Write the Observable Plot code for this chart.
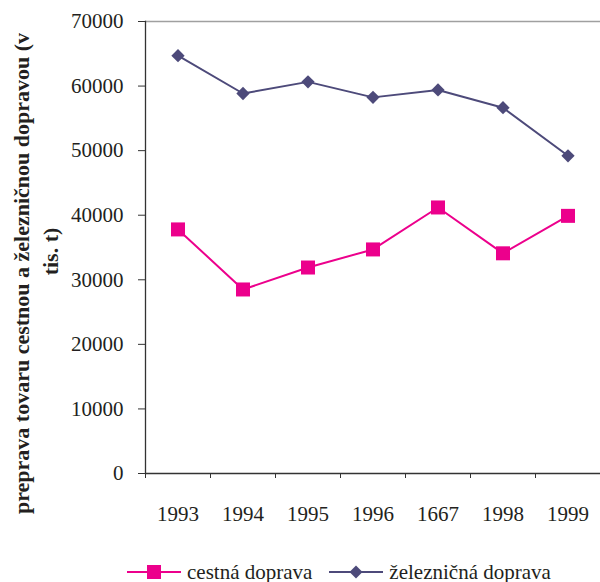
<!DOCTYPE html>
<html>
<head>
<meta charset="utf-8">
<script src="https://cdn.jsdelivr.net/npm/d3@7"></script>
<script src="https://cdn.jsdelivr.net/npm/@observablehq/plot@0.6"></script>
<style>
  body { margin: 0; background: #fff; }
  #wrap { position: relative; width: 600px; height: 582px; font-family: "Times New Roman", "Liberation Serif", Tinos, Times, serif; }
  #wrap svg text { font-family: "Times New Roman", "Liberation Serif", Tinos, Times, serif; }
  #legend { position: absolute; left: 127px; top: 557px; height: 30px; display: flex; align-items: center; font-size: 21px; color: #231F20; white-space: nowrap; }
  #legend .item { display: flex; align-items: center; }
  #legend .item + .item { margin-left: 17px; }
  #legend svg { display: block; }
  #legend span { margin-left: 6px; }
</style>
</head>
<body>
<div id="wrap"></div>
<script>
const years = ["1993", "1994", "1995", "1996", "1667", "1998", "1999"];
const cestna = [37800, 28500, 31900, 34700, 41200, 34100, 39900];
const zeleznicna = [64700, 58850, 60650, 58250, 59400, 56650, 49200];
const seriesNames = ["cestná doprava", "železničná doprava"];
const seriesColors = ["#EC008C", "#4D4A7A"];
const yTicks = [0, 10000, 20000, 30000, 40000, 50000, 60000, 70000];
const yTitle = ["preprava tovaru cestnou a železničnou dopravou (v", "tis. t)"];

const rowsC = years.map((yr, i) => ({year: yr, value: cestna[i], series: seriesNames[0]}));
const rowsZ = years.map((yr, i) => ({year: yr, value: zeleznicna[i], series: seriesNames[1]}));

const W = 600, H = 582, mL = 145, mR = 0, mT = 21, mB = 109;
const bw = (W - mL - mR) / years.length;
const midY = mT + (H - mT - mB) / 2;
const serif = "'Times New Roman', 'Liberation Serif', Tinos, Times, serif";

const chart = Plot.plot({
  width: W, height: H,
  marginLeft: mL, marginRight: mR, marginTop: mT, marginBottom: mB,
  style: {fontFamily: serif, fontSize: "21px", color: "#231F20", background: "#fff", overflow: "visible"},
  x: {type: "band", domain: years, padding: 0, label: null},
  y: {domain: [0, 70000], label: null},
  marks: [
    Plot.ruleY([70000], {stroke: "#A0A0A0", strokeWidth: 1.5}),
    Plot.frame({anchor: "left", stroke: "#333", strokeWidth: 1.3}),
    Plot.ruleY([0], {stroke: "#333", strokeWidth: 1.3}),
    Plot.axisY({ticks: yTicks, tickSize: 7, tickPadding: 15, tickFormat: d => String(d), label: null, fontSize: 21, stroke: "#333"}),
    Plot.axisX({tickSize: 5, tickFormat: () => "", dx: -bw / 2, label: null, stroke: "#333"}),
    Plot.axisX({tickSize: 0, tickPadding: 33, label: null, fontSize: 21}),
    Plot.line(rowsZ, {x: "year", y: "value", stroke: seriesColors[1], strokeWidth: 2}),
    Plot.dot(rowsZ, {x: "year", y: "value", symbol: "square", rotate: 45, r: 5.3, fill: seriesColors[1], stroke: "none"}),
    Plot.line(rowsC, {x: "year", y: "value", stroke: seriesColors[0], strokeWidth: 2}),
    Plot.dot(rowsC, {x: "year", y: "value", symbol: "square", r: 7.9, fill: seriesColors[0], stroke: "none"}),
    Plot.text([yTitle[0]], {frameAnchor: "left", rotate: -90, dx: 21 - mL, dy: 273 - midY, fontSize: 22, fontWeight: "bold", textAnchor: "middle", fill: "#231F20"}),
    Plot.text([yTitle[1]], {frameAnchor: "left", rotate: -90, dx: 50 - mL, dy: 251 - midY, fontSize: 22, fontWeight: "bold", textAnchor: "middle", fill: "#231F20"})
  ]
});

const wrap = document.getElementById("wrap");
wrap.appendChild(chart);

// legend
const legend = d3.select(wrap).append("div").attr("id", "legend");
seriesNames.forEach((name, i) => {
  const item = legend.append("div").attr("class", "item");
  const svg = item.append("svg").attr("width", 54).attr("height", 20);
  svg.append("line").attr("x1", 0).attr("x2", 54).attr("y1", 10).attr("y2", 10)
    .attr("stroke", seriesColors[i]).attr("stroke-width", 2);
  if (i === 0) {
    svg.append("rect").attr("x", 20).attr("y", 3).attr("width", 14).attr("height", 14).attr("fill", seriesColors[i]);
  } else {
    svg.append("path").attr("d", d3.symbol(d3.symbolSquare, 85)()).attr("transform", "translate(27,10) rotate(45)").attr("fill", seriesColors[i]);
  }
  item.append("span").text(name);
});
</script>
</body>
</html>
